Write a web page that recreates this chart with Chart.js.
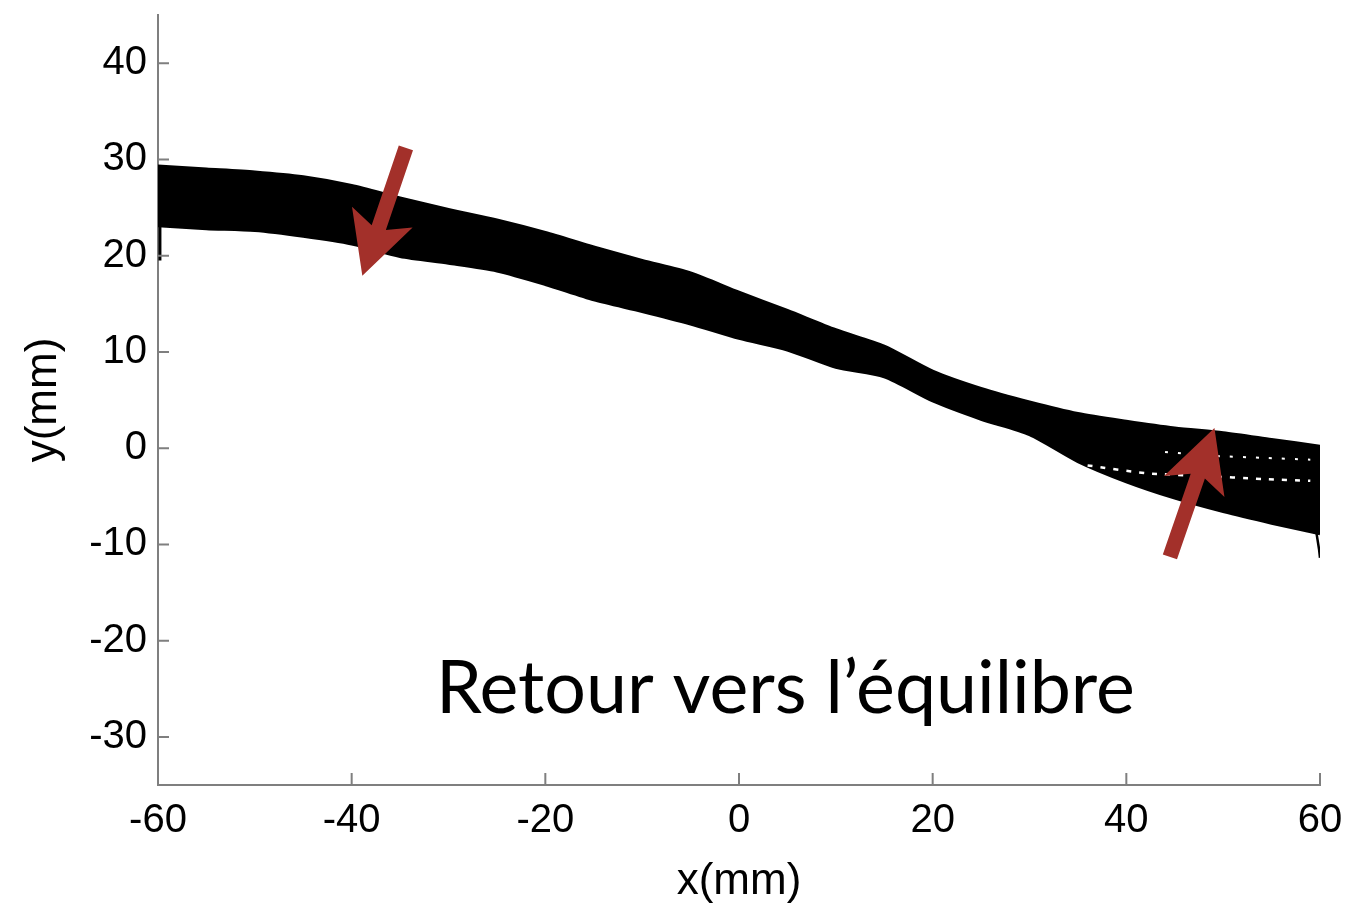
<!DOCTYPE html>
<html>
<head>
<meta charset="utf-8">
<title>Retour vers l'équilibre</title>
<script src="https://cdn.jsdelivr.net/npm/chart.js@4"></script>
<style>
    html, body { margin: 0; padding: 0; background: #fff; }
    #wrap { width: 1356px; height: 904px; }
</style>
</head>
<body>
<div id="wrap"><canvas id="trajChart" width="1356" height="904"></canvas></div>
<script>
// x positions (mm) where the band edges were read
const xPos = [-60, -55, -50, -45, -40, -35, -30, -25, -20, -15, -10, -5, 0,
              5, 10, 15, 20, 25, 30, 35, 40, 45, 50, 55, 60];
// upper / lower envelope of the trajectories (mm)
const bandTop = [29.3, 29.0, 28.7, 28.2, 27.3, 26.0, 24.8, 23.7, 22.4, 20.9, 19.5, 18.2, 16.2,
                 14.3, 12.3, 10.6, 8.0, 6.2, 4.8, 3.6, 2.8, 2.1, 1.6, 0.9, 0.2];
const bandBottom = [23.1, 22.8, 22.6, 22.0, 21.2, 19.9, 19.2, 18.4, 17.0, 15.4, 14.2, 12.9, 11.4,
                    10.2, 8.4, 7.4, 4.9, 3.0, 1.4, -1.4, -3.5, -5.2, -6.6, -7.8, -8.9];
// small stray pieces at both ends
const leftSpikeX = [-59.8, -59.8];
const leftSpikeY = [23.5, 19.5];
const rightTailX = [59.6, 59.9, 60];
const rightTailY = [-8.6, -10.5, -11.4];
// gaps between trajectories on the right side
const gap1X = [36, 42, 48, 54, 59];
const gap1Y = [-1.8, -2.6, -2.9, -3.2, -3.4];
const gap2X = [44, 49, 54, 59];
const gap2Y = [-0.4, -0.8, -1.0, -1.2];

const xTicks = [-60, -40, -20, 0, 20, 40, 60];
const yTicks = [-30, -20, -10, 0, 10, 20, 30, 40];

// arrows: [tailX, tailY, tipX, tipY] in mm
const arrows = [
    [-34.4, 31.2, -38.9, 17.9],
    [44.5, -11.3, 49.1, 2.1]
];
const caption = 'Retour vers l\u2019équilibre';
const captionPos = [-31.3, -27.5];

const AXIS_GRAY = '#7f7f7f';
const ARROW_RED = '#a3302a';

function pts(xs, ys) {
    return xs.map((x, i) => ({ x: x, y: ys[i] }));
}

// inward tick marks, like matlab
const inwardTicks = {
    id: 'inwardTicks',
    afterDraw(chart) {
        const ctx = chart.ctx;
        const area = chart.chartArea;
        const xs = chart.scales.x, ys = chart.scales.y;
        ctx.save();
        ctx.strokeStyle = AXIS_GRAY;
        ctx.lineWidth = 2;
        ctx.beginPath();
        xTicks.forEach(v => {
            const px = xs.getPixelForValue(v);
            ctx.moveTo(px, area.bottom);
            ctx.lineTo(px, area.bottom - 12);
        });
        yTicks.forEach(v => {
            const py = ys.getPixelForValue(v);
            ctx.moveTo(area.left, py);
            ctx.lineTo(area.left + 11, py);
        });
        ctx.stroke();
        ctx.restore();
    }
};

function drawArrow(ctx, tx, ty, px, py) {
    const len = Math.hypot(px - tx, py - ty);
    const ux = (px - tx) / len, uy = (py - ty) / len;
    const nx = -uy, ny = ux;
    const w = 7.5, headLen = 62, headW = 32, neck = 51;
    const jx = px - ux * neck, jy = py - uy * neck;
    const bx = px - ux * headLen, by = py - uy * headLen;
    ctx.beginPath();
    ctx.moveTo(tx + nx * w, ty + ny * w);
    ctx.lineTo(jx + nx * w, jy + ny * w);
    ctx.lineTo(bx + nx * headW, by + ny * headW);
    ctx.lineTo(px, py);
    ctx.lineTo(bx - nx * headW, by - ny * headW);
    ctx.lineTo(jx - nx * w, jy - ny * w);
    ctx.lineTo(tx - nx * w, ty - ny * w);
    ctx.closePath();
    ctx.fill();
}

const annotations = {
    id: 'annotations',
    afterDatasetsDraw(chart) {
        const ctx = chart.ctx;
        const xs = chart.scales.x, ys = chart.scales.y;
        ctx.save();
        ctx.fillStyle = ARROW_RED;
        arrows.forEach(a => {
            drawArrow(ctx,
                xs.getPixelForValue(a[0]), ys.getPixelForValue(a[1]),
                xs.getPixelForValue(a[2]), ys.getPixelForValue(a[3]));
        });
        ctx.fillStyle = '#000';
        ctx.font = '73.5px Lato';
        ctx.textAlign = 'left';
        ctx.textBaseline = 'alphabetic';
        ctx.fillText(caption, xs.getPixelForValue(captionPos[0]), ys.getPixelForValue(captionPos[1]));
        ctx.restore();
    }
};

const lineBase = { pointRadius: 0, tension: 0.25, borderColor: '#000', borderWidth: 3 };

new Chart(document.getElementById('trajChart'), {
    type: 'line',
    data: {
        datasets: [
            Object.assign({}, lineBase, {
                data: pts(xPos, bandTop), fill: '+1', backgroundColor: '#000'
            }),
            Object.assign({}, lineBase, { data: pts(xPos, bandBottom), fill: false }),
            Object.assign({}, lineBase, { data: pts(leftSpikeX, leftSpikeY), fill: false, tension: 0 }),
            Object.assign({}, lineBase, { data: pts(rightTailX, rightTailY), fill: false, borderWidth: 2.5, tension: 0 }),
            Object.assign({}, lineBase, {
                data: pts(gap1X, gap1Y), fill: false, borderColor: '#fff', borderWidth: 2.5,
                borderDash: [5, 8], order: -1
            }),
            Object.assign({}, lineBase, {
                data: pts(gap2X, gap2Y), fill: false, borderColor: '#fff', borderWidth: 2,
                borderDash: [3, 10], order: -1
            })
        ]
    },
    options: {
        responsive: false,
        animation: false,
        events: [],
        layout: { padding: { top: 15, right: 36, left: 0, bottom: 0 } },
        plugins: { legend: { display: false }, tooltip: { enabled: false } },
        scales: {
            x: {
                type: 'linear',
                min: -60, max: 60,
                afterFit: s => { s.height = 119; },
                afterBuildTicks: s => { s.ticks = xTicks.map(v => ({ value: v })); },
                grid: { display: false, drawTicks: false },
                border: { display: true, color: AXIS_GRAY, width: 2 },
                ticks: { color: '#000', font: { family: 'Liberation Sans', size: 40 }, padding: 12, maxRotation: 0 },
                title: {
                    display: true, text: 'x(mm)', color: '#000',
                    font: { family: 'Liberation Sans', size: 44, lineHeight: 1 },
                    padding: { top: 0, bottom: 0 }
                }
            },
            y: {
                type: 'linear',
                min: -35, max: 45,
                afterFit: s => { s.width = 158; },
                afterBuildTicks: s => { s.ticks = yTicks.map(v => ({ value: v })); },
                grid: { display: false, drawTicks: false },
                border: { display: true, color: AXIS_GRAY, width: 2 },
                ticks: { color: '#000', font: { family: 'Liberation Sans', size: 40, lineHeight: 0.05 }, padding: 11 },
                title: {
                    display: true, text: 'y(mm)', color: '#000',
                    font: { family: 'Liberation Sans', size: 44 },
                    padding: { top: 17, bottom: 0 }
                }
            }
        }
    },
    plugins: [inwardTicks, annotations]
});
</script>
</body>
</html>
